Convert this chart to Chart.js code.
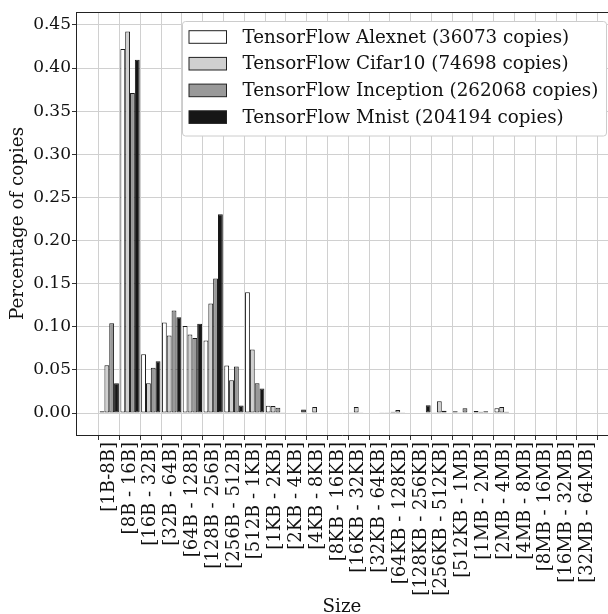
<!DOCTYPE html>
<html>
<head>
<meta charset="utf-8">
<script src="https://cdn.jsdelivr.net/npm/chart.js@4.4.1/dist/chart.umd.min.js"></script>
<style>
  html, body { margin: 0; padding: 0; background: #fff; }
</style>
</head>
<body>
<canvas id="myChart" width="608" height="614"></canvas>
<script>
const sizeLabels = [
  "[1B-8B]", "[8B - 16B]", "[16B - 32B]", "[32B - 64B]", "[64B - 128B]", "[128B - 256B]",
  "[256B - 512B]", "[512B - 1KB]", "[1KB - 2KB]", "[2KB - 4KB]", "[4KB - 8KB]", "[8KB - 16KB]",
  "[16KB - 32KB]", "[32KB - 64KB]", "[64KB - 128KB]", "[128KB - 256KB]", "[256KB - 512KB]",
  "[512KB - 1MB]", "[1MB - 2MB]", "[2MB - 4MB]", "[4MB - 8MB]", "[8MB - 16MB]", "[16MB - 32MB]",
  "[32MB - 64MB]"
];
const seriesNames = [
  "TensorFlow Alexnet (36073 copies)",
  "TensorFlow Cifar10 (74698 copies)",
  "TensorFlow Inception (262068 copies)",
  "TensorFlow Mnist (204194 copies)"
];
const alexnet = [0.002, 0.422, 0.068, 0.105, 0.101, 0.084, 0.055, 0.140, 0.0085, 0.0005, 0, 0.0005,
  0.0008, 0.0005, 0.0015, 0.0005, 0.0008, 0.002, 0.0023, 0.0055, 0.0005, 0.0005, 0.0005, 0];
const cifar10 = [0.0555, 0.4425, 0.0345, 0.090, 0.091, 0.127, 0.038, 0.0735, 0.008, 0.0005, 0.007, 0.0005,
  0.007, 0.0005, 0.0035, 0.0005, 0.0135, 0.001, 0.0015, 0.007, 0.0005, 0.0005, 0.0005, 0];
const inception = [0.104, 0.371, 0.0525, 0.119, 0.087, 0.156, 0.054, 0.0345, 0.006, 0.0005, 0.0005, 0.0005,
  0.001, 0.001, 0.001, 0.0005, 0.0027, 0.0054, 0.0019, 0.0015, 0.0005, 0.0005, 0.0005, 0.0005];
const mnist = [0.0345, 0.4095, 0.060, 0.111, 0.1035, 0.2305, 0.0087, 0.0285, 0.0008, 0.0042, 0.0005, 0.0005,
  0.0005, 0.001, 0.0005, 0.009, 0.0005, 0.0005, 0.0005, 0.0005, 0.0005, 0.0005, 0.0005, 0];
const yTicks = [0, 0.05, 0.10, 0.15, 0.20, 0.25, 0.30, 0.35, 0.40, 0.45];

const fills = ["#ffffff", "#d0d0d0", "#999999", "#161616"];
const serif = "'DejaVu Serif', serif";
Chart.defaults.font.family = serif;
Chart.defaults.color = "#111";

function toPoints(values) {
  return values.map((v, i) => ({ x: i, y: v }));
}

// top frame line + boxed legend like matplotlib
const frameAndLegend = {
  id: "frameAndLegend",
  afterDatasetsDraw(chart) {
    const { ctx, chartArea: a } = chart;
    ctx.save();
    ctx.strokeStyle = "#222";
    ctx.lineWidth = 1;
    ctx.beginPath();
    ctx.moveTo(a.left, a.top + 0.5);
    ctx.lineTo(a.right, a.top + 0.5);
    ctx.stroke();

    const x0 = a.right - 425.5, y0 = a.top + 9.5, w = 424, h = 114.5;
    ctx.fillStyle = "#fff";
    ctx.strokeStyle = "#cccccc";
    ctx.beginPath();
    ctx.roundRect(x0, y0, w, h, 3);
    ctx.fill();
    ctx.stroke();

    ctx.font = "18.3px " + serif;
    ctx.textBaseline = "middle";
    chart.data.datasets.forEach((ds, i) => {
      const cy = y0 + 15.5 + i * 26.7;
      ctx.fillStyle = ds.backgroundColor;
      ctx.fillRect(x0 + 6.5, cy - 6.3, 37.5, 12.6);
      ctx.strokeStyle = "#222";
      ctx.strokeRect(x0 + 6.5, cy - 6.3, 37.5, 12.6);
      ctx.fillStyle = "#111";
      ctx.fillText(ds.label, x0 + 60, cy + 1);
    });
    ctx.restore();
  }
};

let myChart = document.getElementById("myChart").getContext("2d");
let sizeChart = new Chart(myChart, {
  type: "bar",
  data: {
    datasets: [alexnet, cifar10, inception, mnist].map((vals, i) => ({
      label: seriesNames[i],
      data: toPoints(vals),
      backgroundColor: fills[i],
      borderColor: "#1a1a1a",
      borderWidth: 1,
      borderSkipped: false,
      categoryPercentage: 0.93,
      barPercentage: 1.0,
    })),
  },
  options: {
    responsive: false,
    animation: false,
    layout: { padding: { top: 12, right: 0, left: 0, bottom: 0 } },
    plugins: { legend: { display: false }, tooltip: { enabled: false } },
    scales: {
      x: {
        type: "linear",
        min: -1.6,
        max: 24,
        offset: false,
        afterBuildTicks: (axis) => { axis.ticks = sizeLabels.map((_, i) => ({ value: i })); },
        afterFit: (axis) => { axis.height = 179; axis.paddingLeft = 0; axis.paddingRight = 0; },
        ticks: {
          autoSkip: false, minRotation: 90, maxRotation: 90, padding: 2,
          font: { size: 18, lineHeight: 1.0 }, color: "#111",
          callback: (v) => sizeLabels[v],
        },
        grid: { color: "#d0d0d0", tickColor: "#333", tickLength: 5, lineWidth: 1 },
        border: { color: "#222" },
        title: { display: true, text: "Size", font: { size: 18.3 }, color: "#111", padding: { top: 0, bottom: -4 } },
      },
      y: {
        min: -0.0255,
        max: 0.465,
        afterBuildTicks: (axis) => { axis.ticks = yTicks.map((v) => ({ value: v })); },
        afterFit: (axis) => { axis.width = 76; },
        ticks: { padding: 1, font: { size: 17 }, color: "#111", callback: (v) => v.toFixed(2) },
        grid: { color: "#d0d0d0", tickColor: "#333", tickLength: 4, lineWidth: 1 },
        border: { color: "#222" },
        title: { display: true, text: "Percentage of copies", font: { size: 18.3 }, color: "#111", padding: { top: 7, bottom: 0 } },
      },
    },
  },
  plugins: [frameAndLegend],
});
</script>
</body>
</html>
